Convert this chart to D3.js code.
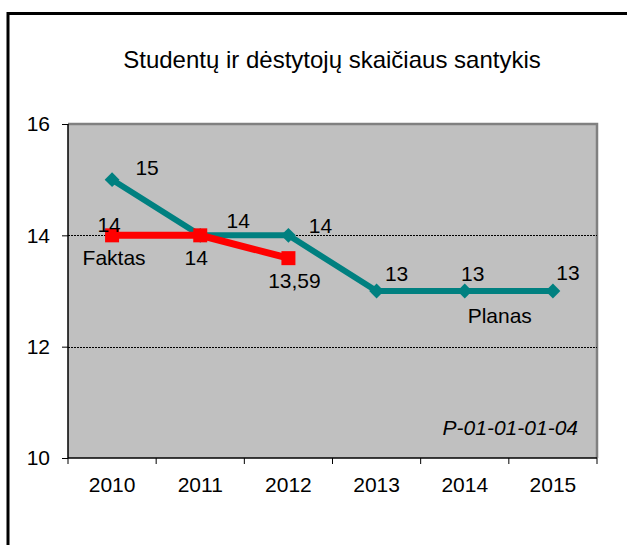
<!DOCTYPE html>
<html>
<head>
<meta charset="utf-8">
<script src="https://cdn.jsdelivr.net/npm/d3@7"></script>
<style>
  html, body { margin: 0; padding: 0; background: #fff; }
  svg { display: block; font-family: "Liberation Sans", Arial, sans-serif; }
</style>
</head>
<body>
<svg id="chart" width="627" height="545"></svg>
<script>
const title = "Studentų ir dėstytojų skaičiaus santykis";
const years = ["2010", "2011", "2012", "2013", "2014", "2015"];
const planas = [15, 14, 14, 13, 13, 13];
const faktas = [14, 14, 13.59];
const yTicks = [10, 12, 14, 16];
const planasLabels = ["15", "14", "14", "13", "13", "13"];
const faktasLabels = ["14", "14", "13,59"];
const seriesNames = ["Planas", "Faktas"];
const code = "P-01-01-01-04";

// label layout (offsets from point, px)
const planasOff = [[35, -5], [38, -7], [32, -2], [20, -10], [8, -10], [15, -11]];
const faktasOff = [[-3, -3], [-4, 30], [6, 30]];

const FS = 21;
const svg = d3.select("#chart");
const m = { left: 68, right: 597, top: 124, bottom: 458 };

// outer frame
svg.append("rect").attr("x", 8).attr("y", 13.5).attr("width", 640).attr("height", 560)
  .attr("fill", "none").attr("stroke", "#000").attr("stroke-width", 3);

const x = d3.scaleBand().domain(years).range([m.left, m.right]).padding(0);
const y = d3.scaleLinear().domain([10, 16]).range([m.bottom, m.top]);

// plot area
svg.append("rect").attr("x", m.left).attr("y", m.top)
  .attr("width", m.right - m.left).attr("height", m.bottom - m.top)
  .attr("fill", "#C0C0C0");
svg.append("path")
  .attr("d", `M${m.left},${m.top}H${m.right}V${m.bottom}`)
  .attr("fill", "none").attr("stroke", "#808080").attr("stroke-width", 2.5);

// gridlines
svg.append("g").selectAll("line").data(yTicks.filter(t => t > 10 && t < 16)).join("line")
  .attr("x1", m.left).attr("x2", m.right)
  .attr("y1", d => Math.round(y(d)) + 0.5).attr("y2", d => Math.round(y(d)) + 0.5)
  .attr("stroke", "#000").attr("stroke-width", 1).attr("stroke-dasharray", "2,1");

// y axis
const yAxis = d3.axisLeft(y).tickValues(yTicks).tickSize(6).tickPadding(12).tickFormat(d3.format("d"));
const gy = svg.append("g").attr("transform", `translate(${m.left},0)`).call(yAxis);
gy.select(".domain").attr("stroke", "#000").attr("stroke-width", 1.5).attr("d", `M0,${m.top}V${m.bottom}`);
gy.selectAll(".tick line").attr("stroke", "#000");
gy.selectAll(".tick text").attr("font-size", FS).attr("fill", "#000")
  .attr("font-family", "Liberation Sans, Arial, sans-serif");

// x axis
const xAxis = d3.axisBottom(x).tickSize(0).tickPadding(0);
const gx = svg.append("g").attr("transform", `translate(0,${m.bottom})`).call(xAxis);
gx.select(".domain").attr("stroke", "#000").attr("stroke-width", 1.5).attr("d", `M${m.left},0H${m.right}`);
gx.selectAll(".tick text").attr("font-size", FS).attr("fill", "#000").attr("dy", 0).attr("y", 34)
  .attr("font-family", "Liberation Sans, Arial, sans-serif");
const bounds = years.map(d => x(d)).concat([x.range()[1]]);
gx.selectAll(".bt").data(bounds).join("line").attr("class", "bt")
  .attr("x1", d => d).attr("x2", d => d).attr("y1", 0).attr("y2", 6)
  .attr("stroke", "#000").attr("stroke-width", 1);

const cx = i => x(years[i]) + x.bandwidth() / 2;

// Planas series
const line = d3.line().x((d, i) => cx(i)).y(d => y(d));
svg.append("path").datum(planas).attr("d", line)
  .attr("fill", "none").attr("stroke", "#008080").attr("stroke-width", 6).attr("stroke-linejoin", "miter");
svg.append("g").selectAll("path").data(planas).join("path")
  .attr("transform", (d, i) => `translate(${cx(i)},${y(d)})`)
  .attr("d", d3.symbol(d3.symbolDiamond2, 140)).attr("fill", "#008080");

// Faktas series
svg.append("path").datum(faktas).attr("d", line)
  .attr("fill", "none").attr("stroke", "#FF0000").attr("stroke-width", 7);
svg.append("g").selectAll("rect").data(faktas).join("rect")
  .attr("x", (d, i) => cx(i) - 7).attr("y", d => y(d) - 7)
  .attr("width", 14).attr("height", 14).attr("fill", "#FF0000");

// labels
const lab = svg.append("g").attr("font-size", FS).attr("fill", "#000").attr("text-anchor", "middle");
lab.selectAll(".pl").data(planas).join("text").attr("class", "pl")
  .attr("x", (d, i) => cx(i) + planasOff[i][0]).attr("y", (d, i) => y(d) + planasOff[i][1])
  .text((d, i) => planasLabels[i]);
lab.selectAll(".fl").data(faktas).join("text").attr("class", "fl")
  .attr("x", (d, i) => cx(i) + faktasOff[i][0]).attr("y", (d, i) => y(d) + faktasOff[i][1])
  .text((d, i) => faktasLabels[i]);

// series names
lab.append("text").attr("x", cx(4) + 35).attr("y", y(planas[4]) + 32).text(seriesNames[0]);
lab.append("text").attr("x", cx(0) + 2).attr("y", y(faktas[0]) + 30).text(seriesNames[1]);

// code
svg.append("text").attr("x", 578).attr("y", 435).attr("text-anchor", "end")
  .attr("font-size", FS).attr("font-style", "italic").text(code);

// title
svg.append("text").attr("x", 332).attr("y", 68).attr("text-anchor", "middle")
  .attr("font-size", 24).text(title);
</script>
</body>
</html>
